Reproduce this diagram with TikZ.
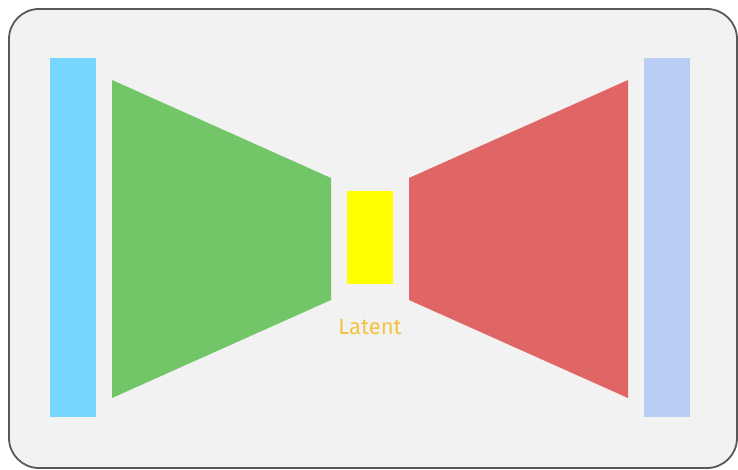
\documentclass[tikz,border=0pt]{standalone}
\usepackage{fontspec}
\setmainfont{Fira Sans}
\usepackage{tikz}
\usetikzlibrary{positioning}

\definecolor{inbar}{HTML}{77D6FF}
\definecolor{outbar}{HTML}{B9CDF7}
\definecolor{encgreen}{HTML}{72C667}
\definecolor{decred}{HTML}{E06666}
\definecolor{latentfill}{HTML}{FFFF00}
\definecolor{latenttext}{HTML}{F5C242}
\definecolor{framegray}{HTML}{595959}

\tikzset{
  bar/.style={rectangle, inner sep=0pt, minimum width=46pt, minimum height=359pt},
}

\begin{document}
\begin{tikzpicture}[x=1pt, y=-1pt]
        \useasboundingbox (0,0) rectangle (738,470);
        \draw[framegray, line width=1.8pt, fill={rgb,255:red,242;green,242;blue,242}, rounded corners=30pt]
            (9,9) rectangle (737,468);

        \node[bar, fill=inbar] (input) at (73,237.5) {};
        \node[bar, fill=outbar] (output) at (667,237.5) {};

        % encoder and decoder
        \fill[encgreen] (112,80) -- (331,178) -- (331,300) -- (112,398) -- cycle;
        \fill[decred] (409,178) -- (628,80) -- (628,398) -- (409,300) -- cycle;

        \node[rectangle, inner sep=0pt, fill=latentfill, minimum width=46pt, minimum height=93pt] (latent) at (370,237.5) {};
        \node[text=latenttext, font=\fontsize{22}{26}\selectfont] (latentlabel) at (370,327) {Latent};
    \end{tikzpicture}
\end{document}
